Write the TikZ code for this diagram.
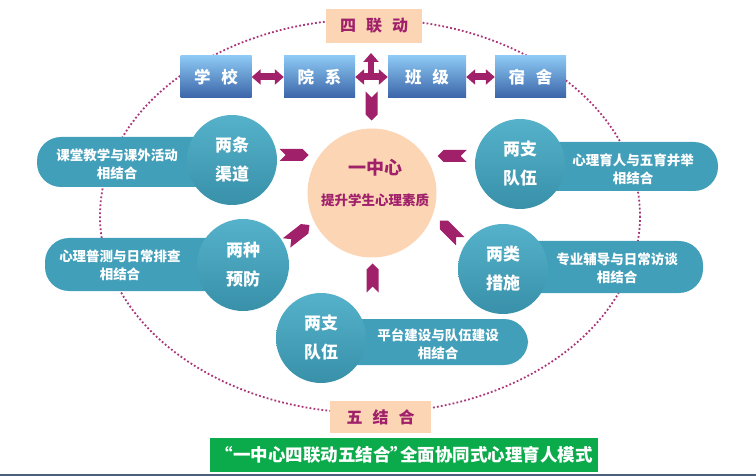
\documentclass[tikz,border=0pt]{standalone}
\usepackage{fontspec}
\setmainfont{Noto Sans CJK SC}
\usetikzlibrary{arrows.meta,shapes.symbols}
\definecolor{plum}{HTML}{A0206A}
\definecolor{peach}{HTML}{FCD5B5}
\definecolor{sea}{HTML}{429FB9}
\definecolor{sealight}{HTML}{55B2CA}
\definecolor{seadark}{HTML}{3890A9}
\definecolor{sky}{HTML}{8DC9F4}
\definecolor{navy}{HTML}{3A64A8}
\definecolor{leaf}{HTML}{0BAA4B}
\definecolor{slate}{HTML}{4A5E7E}
\begin{document}
\begin{tikzpicture}[x=1pt, y=-1pt,
   every node/.style={inner sep=0pt},
   unit/.style={rectangle, top color=sky, bottom color=navy, text=white,
      minimum width=71pt, minimum height=42pt, font=\fontsize{16.5}{16}\selectfont\bfseries},
   tag/.style={rectangle, fill=peach, text=plum, font=\fontsize{16}{16}\selectfont\bfseries},
   disc/.style={circle, minimum size=90pt, top color=sealight, bottom color=seadark,
      text=white, align=center, font=\fontsize{17}{29}\selectfont\bfseries},
   pilltext/.style={text=white, align=center, font=\fontsize{13.5}{18}\selectfont\bfseries},
   pill/.style={fill=sea, rounded corners=24pt},
   link/.style={plum, line width=7pt},
   ribbon/.style={signal, signal from=west, signal to=east, fill=plum,
      minimum width=29pt, minimum height=12pt},
   ring/.style={plum!90, line width=1.8pt, dash pattern=on 1.8pt off 2.2pt}]

\useasboundingbox (0,0) rectangle (756,476);
\draw[ring] (370,216) ellipse [x radius=270, y radius=197];

% ribbons behind the discs
\fill[pill] (37,137) rectangle (232,187);
\fill[pill] (45,238) rectangle (243,291);
\fill[pill] (321,319) rectangle (528,365);
\fill[pill] (520,142) rectangle (718,191);
\fill[pill] (503,241) rectangle (703,293);

\node[pilltext] (waytext) at (117,164) {课堂教学与课外活动\\相结合};
\node[pilltext] (guardtext) at (120,265) {心理普测与日常排查\\相结合};
\node[pilltext] (buildtext) at (438,344) {平台建设与队伍建设\\相结合};
\node[pilltext] (teamtext) at (633,169) {心理育人与五育并举\\相结合};
\node[pilltext] (steptext) at (617,268) {专业辅导与日常访谈\\相结合};

\node[disc] (ways) at (232,160) {两条\\渠道};
\node[disc, minimum size=92pt] (guards) at (243,265) {两种\\预防};
\node[disc] (build) at (321,338) {两支\\队伍};
\node[disc] (teams) at (520,164) {两支\\队伍};
\node[disc] (steps) at (503,269) {两类\\措施};

% centre
\node[circle, fill=peach, minimum size=129pt] (core) at (372,193) {};
\node[text=plum, font=\fontsize{18}{18}\selectfont\bfseries] (coretitle) at (375,168) {一中心};
\node[text=plum, font=\fontsize{13.5}{14}\selectfont\bfseries] (coregoal) at (375,200) {提升学生心理素质};

\node[ribbon, rotate=-90] (rtop) at (371.5,106) {};
\node[ribbon] (rleft) at (294,155) {};
\node[ribbon, rotate=180] (rright) at (452,156) {};
\node[ribbon, rotate=38] (rlowleft) at (298,234) {};
\node[ribbon, rotate=135] (rlowright) at (450,231) {};
\node[ribbon, rotate=90] (rbottom) at (372.5,278) {};

% four units
\node[tag, minimum width=96pt, minimum height=34pt] (fourlink) at (374,26) {四\hspace{10pt}联\hspace{10pt}动};
\node[unit] (school) at (216,77) {学\hspace{11pt}校};
\node[unit] (dept) at (319.5,77) {院\hspace{11pt}系};
\node[unit, minimum width=78pt] (class) at (427,77) {班\hspace{11pt}级};
\node[unit] (dorm) at (530.5,77) {宿\hspace{11pt}舍};

\coordinate (hub) at (371,77);
\coordinate (hubtop) at (371,53);
\draw[link, line width=6pt, -{Triangle[length=9pt,width=15pt]}] (hub) -- (hubtop);
\draw[link, {Triangle[length=9pt,width=15pt]}-{Triangle[length=9pt,width=15pt]}] (school) -- (dept);
\draw[link, {Triangle[length=9pt,width=15pt]}-{Triangle[length=9pt,width=15pt]}] (dept) -- (class);
\draw[link, {Triangle[length=9pt,width=15pt]}-{Triangle[length=9pt,width=15pt]}] (class) -- (dorm);

% five combinations
\node[tag, minimum width=101pt, minimum height=32pt] (fivelink) at (380.5,417) {五\hspace{10pt}结\hspace{10pt}合};
\node[fill=leaf, text=white, minimum width=388pt, minimum height=34pt,
   font=\fontsize{17.5}{17}\selectfont\bfseries] (title) at (404,455) {“一中心四联动五结合”\hspace{-8pt}全面协同式心理育人模式};

\draw[slate, line width=1.2pt] (0,475) -- (756,475);
\end{tikzpicture}
\end{document}
